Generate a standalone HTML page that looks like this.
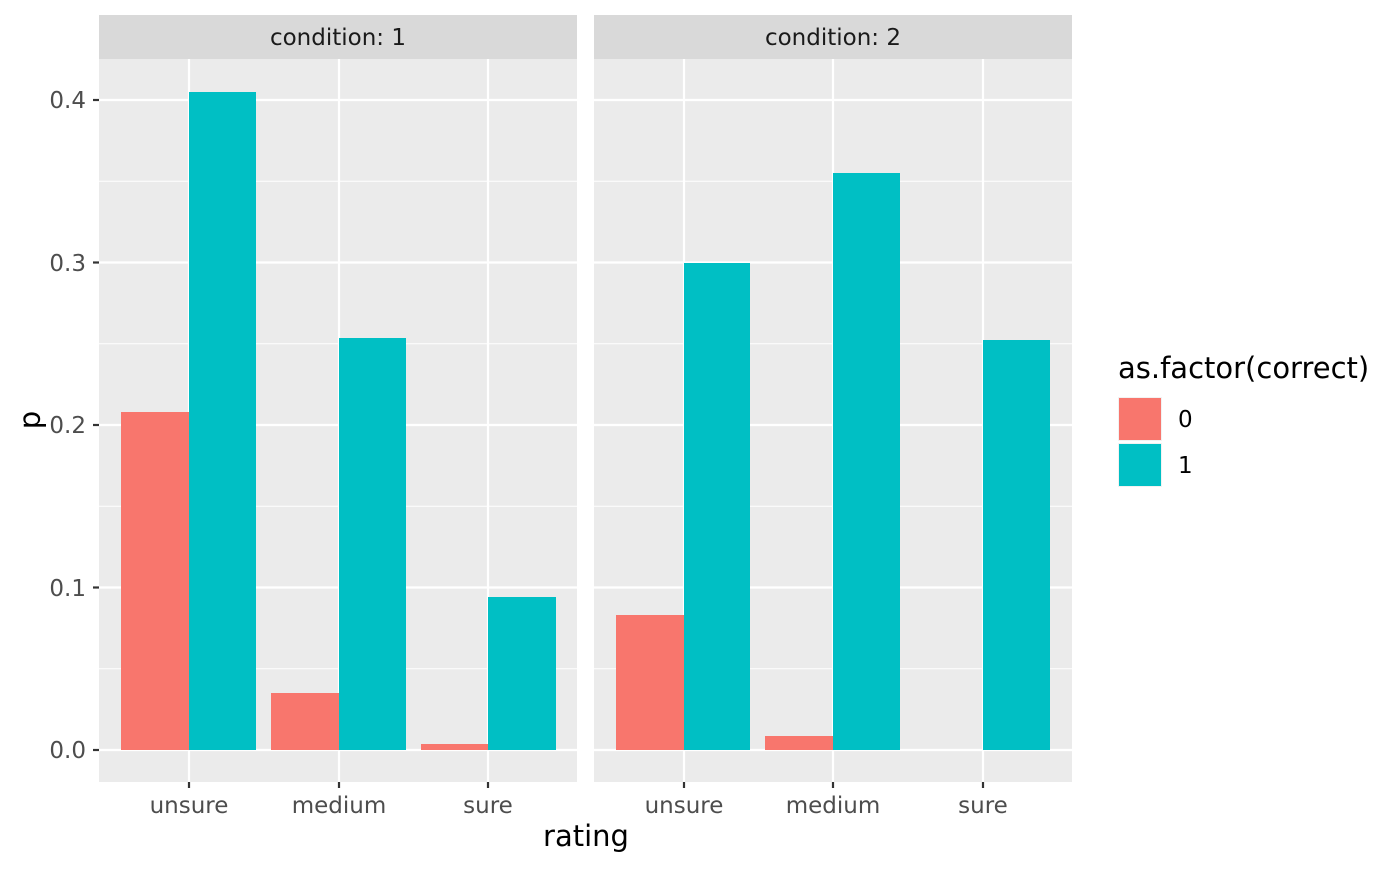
<!DOCTYPE html>
<html><head><style>body{margin:0;background:#fff}</style></head><body>
<svg width="1400" height="866" xmlns="http://www.w3.org/2000/svg" font-family="'DejaVu Sans','Liberation Sans',sans-serif">
<rect width="1400" height="866" fill="#fff"/>
<g id="p1">
<rect x="99" y="59" width="478" height="723" fill="#ebebeb"/>
<g stroke="#fff" stroke-width="1.1">
<line x1="99" x2="577" y1="668.75" y2="668.75"/><line x1="99" x2="577" y1="506.25" y2="506.25"/><line x1="99" x2="577" y1="343.75" y2="343.75"/><line x1="99" x2="577" y1="181.25" y2="181.25"/>
</g>
<g stroke="#fff" stroke-width="2.2">
<line x1="99" x2="577" y1="750" y2="750"/><line x1="99" x2="577" y1="587.5" y2="587.5"/><line x1="99" x2="577" y1="425" y2="425"/><line x1="99" x2="577" y1="262.5" y2="262.5"/><line x1="99" x2="577" y1="100" y2="100"/>
<line x1="189" x2="189" y1="59" y2="782"/><line x1="339" x2="339" y1="59" y2="782"/><line x1="488" x2="488" y1="59" y2="782"/>
</g>
<rect x="121" y="412" width="68" height="338" fill="#f8766d"/>
<rect x="189" y="92" width="67" height="658" fill="#00bfc4"/>
<rect x="271" y="693" width="68" height="57" fill="#f8766d"/>
<rect x="339" y="338" width="67" height="412" fill="#00bfc4"/>
<rect x="421" y="744" width="67" height="6" fill="#f8766d"/>
<rect x="488" y="597" width="68" height="153" fill="#00bfc4"/>
<rect x="99" y="15" width="478" height="44" fill="#d9d9d9"/>
<text x="338" y="45" font-size="23" fill="#1a1a1a" text-anchor="middle">condition: 1</text>
</g>
<g id="p2">
<rect x="594" y="59" width="478" height="723" fill="#ebebeb"/>
<g stroke="#fff" stroke-width="1.1">
<line x1="594" x2="1072" y1="668.75" y2="668.75"/><line x1="594" x2="1072" y1="506.25" y2="506.25"/><line x1="594" x2="1072" y1="343.75" y2="343.75"/><line x1="594" x2="1072" y1="181.25" y2="181.25"/>
</g>
<g stroke="#fff" stroke-width="2.2">
<line x1="594" x2="1072" y1="750" y2="750"/><line x1="594" x2="1072" y1="587.5" y2="587.5"/><line x1="594" x2="1072" y1="425" y2="425"/><line x1="594" x2="1072" y1="262.5" y2="262.5"/><line x1="594" x2="1072" y1="100" y2="100"/>
<line x1="684" x2="684" y1="59" y2="782"/><line x1="833" x2="833" y1="59" y2="782"/><line x1="983" x2="983" y1="59" y2="782"/>
</g>
<rect x="616" y="615" width="68" height="135" fill="#f8766d"/>
<rect x="684" y="263" width="66" height="487" fill="#00bfc4"/>
<rect x="765" y="736" width="68" height="14" fill="#f8766d"/>
<rect x="833" y="173" width="67" height="577" fill="#00bfc4"/>
<rect x="983" y="340" width="67" height="410" fill="#00bfc4"/>
<rect x="594" y="15" width="478" height="44" fill="#d9d9d9"/>
<text x="833" y="45" font-size="23" fill="#1a1a1a" text-anchor="middle">condition: 2</text>
</g>
<g stroke="#333" stroke-width="2.2">
<line x1="93" x2="99" y1="750" y2="750"/><line x1="93" x2="99" y1="587.5" y2="587.5"/><line x1="93" x2="99" y1="425" y2="425"/><line x1="93" x2="99" y1="262.5" y2="262.5"/><line x1="93" x2="99" y1="100" y2="100"/>
<line x1="189" x2="189" y1="782" y2="788"/><line x1="339" x2="339" y1="782" y2="788"/><line x1="488" x2="488" y1="782" y2="788"/>
<line x1="684" x2="684" y1="782" y2="788"/><line x1="833" x2="833" y1="782" y2="788"/><line x1="983" x2="983" y1="782" y2="788"/>
</g>
<g font-size="23" fill="#4d4d4d" text-anchor="end">
<text x="86" y="758">0.0</text><text x="86" y="596">0.1</text><text x="86" y="433">0.2</text><text x="86" y="271">0.3</text><text x="86" y="108">0.4</text>
</g>
<g font-size="23" fill="#4d4d4d" text-anchor="middle">
<text x="189" y="813">unsure</text><text x="339" y="813">medium</text><text x="488" y="813">sure</text>
<text x="684" y="813">unsure</text><text x="833" y="813">medium</text><text x="983" y="813">sure</text>
</g>
<text x="586" y="846" font-size="29" text-anchor="middle" fill="#000">rating</text>
<text transform="translate(40,420) rotate(-90)" font-size="29" text-anchor="middle" fill="#000">p</text>
<text x="1118" y="378" font-size="29" fill="#000">as.factor(correct)</text>
<rect x="1118" y="397" width="44" height="44" fill="#f2f2f2"/>
<rect x="1119" y="398" width="42" height="42" fill="#f8766d"/>
<rect x="1118" y="443" width="44" height="44" fill="#f2f2f2"/>
<rect x="1119" y="444" width="42" height="42" fill="#00bfc4"/>
<text x="1178" y="427" font-size="23" fill="#000">0</text>
<text x="1178" y="473" font-size="23" fill="#000">1</text>
</svg>
</body></html>
